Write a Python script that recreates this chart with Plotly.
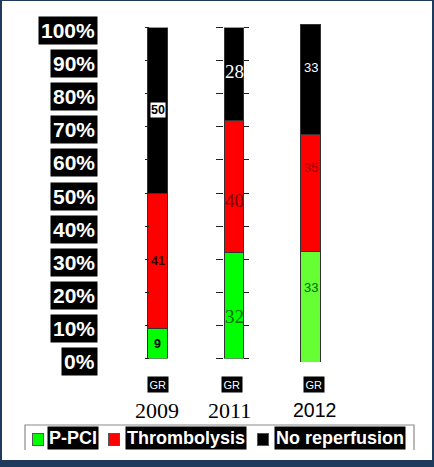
import plotly.graph_objects as go

W, H = 434, 467

# data
years = ["2009", "2011", "2012"]
series = ["P-PCI", "Thrombolysis", "No reperfusion"]
ppci = [9, 32, 33]
thrombolysis = [41, 40, 35]
no_reperfusion = [50, 28, 33]
values = [ppci, thrombolysis, no_reperfusion]

pct_ticks = [0, 10, 20, 30, 40, 50, 60, 70, 80, 90, 100]
pct_labels = ["0%", "10%", "20%", "30%", "40%", "50%", "60%", "70%", "80%", "90%", "100%"]
group_label = "GR"

# styles
seg_colors = [["#00ff00", "#00ff00", "#66ff33"],
              ["#ff0000", "#ff0000", "#ff0000"],
              ["#000000", "#000000", "#000000"]]
legend_colors = ["#00ff00", "#ff0000", "#000000"]
lab_font = [("Arial", 12.5, True), ("Liberation Serif", 19, False), ("Arial", 13, False)]
lab_color = [["#000000", "#3a0000", "#000000"],
             ["#006f00", "#7a0000", "#ffffff"],
             ["#006600", "#990000", "#ffffff"]]
lab_bg = [[None, None, "#ffffff"], [None, None, None], [None, None, None]]
lab_shift = [[0, 0, 0], [-11, -14, 2], [19, 25, 12]]
year_font = [("Liberation Serif", 22), ("Liberation Serif", 22), ("Arial", 19.5)]
year_xshift = [-1, -5, 4]
gr_xshift = [0, -2, 3]


def px(x):
    return x / W


def py(y):
    return 1 - y / H


fig = go.Figure()

for s, name in enumerate(series):
    # 2009 / 2011 share one scale, 2012 was pasted in at a slightly different size
    fig.add_trace(go.Bar(x=years[:2], y=values[s][:2], name=name, width=0.25,
                         marker=dict(color=seg_colors[s][:2], line=dict(color="#333", width=1)),
                         yaxis="y", showlegend=False))
    fig.add_trace(go.Bar(x=years[2:], y=values[s][2:], name=name, width=0.25,
                         marker=dict(color=seg_colors[s][2:], line=dict(color="#333", width=1)),
                         yaxis="y2", showlegend=False))

# empty traces so the tick-only axes get drawn
for ax in ["y3", "y4", "y5"]:
    fig.add_trace(go.Scatter(x=[], y=[], yaxis=ax, showlegend=False, hoverinfo="skip"))

ann = []

# value labels in the middle of every segment
for i, yr in enumerate(years):
    base = 0
    fam, size, bold = lab_font[i]
    for s in range(len(series)):
        v = values[s][i]
        txt = str(v)
        if bold:
            txt = "<b>" + txt + "</b>"
        a = dict(x=i, y=base + v / 2, xref="x", yref="y2" if i == 2 else "y",
                 text=txt, showarrow=False, yshift=lab_shift[i][s],
                 font=dict(family=fam, size=size, color=lab_color[i][s]), borderpad=0)
        if lab_bg[i][s]:
            a["bgcolor"] = lab_bg[i][s]
        ann.append(a)
        base += v

# percent labels in black boxes
for t, lab in zip(pct_ticks, pct_labels):
    ann.append(dict(x=px(98), y=t, xref="paper", yref="y", xanchor="right",
                    text="<b>" + lab + "</b>", showarrow=False, yshift=-3,
                    font=dict(family="Arial", size=21, color="white"),
                    bgcolor="black", borderpad=2))

# GR tags and years under the bars
for i, yr in enumerate(years):
    ann.append(dict(x=i, y=py(384), xref="x", yref="paper", yanchor="middle",
                    text=group_label, showarrow=False, xshift=gr_xshift[i],
                    font=dict(family="Arial", size=11, color="white"),
                    bgcolor="black", borderpad=1.5))
    fam, size = year_font[i]
    ann.append(dict(x=i, y=py(410), xref="x", yref="paper", yanchor="middle",
                    text=yr, showarrow=False, xshift=year_xshift[i],
                    font=dict(family=fam, size=size, color="black")))

# hand-made legend: coloured squares + names in black boxes
sq_x = [37.5, 114, 262.5]
name_x = [72.5, 186, 340]
for s, name in enumerate(series):
    ann.append(dict(x=px(sq_x[s]), y=py(439), xref="paper", yref="paper",
                    xanchor="center", yanchor="middle",
                    text="&nbsp;", showarrow=False, width=10, height=11,
                    font=dict(size=6), bgcolor=legend_colors[s],
                    bordercolor="#555", borderwidth=1, borderpad=0))
    ann.append(dict(x=px(name_x[s]), y=py(438), xref="paper", yref="paper",
                    xanchor="center", yanchor="middle",
                    text="<b>" + name + "</b>", showarrow=False,
                    font=dict(family="Arial", size=18, color="white"),
                    bgcolor="black", borderpad=1))

shapes = [
    dict(type="rect", xref="paper", yref="paper", x0=px(2), x1=px(432), y0=py(460), y1=py(1),
         fillcolor="white", line=dict(width=0), layer="below"),
    dict(type="path", xref="paper", yref="paper",
         path="M %f %f L %f %f L %f %f L %f %f" % (px(25), py(450), px(25), py(425),
                                                   px(414), py(425), px(414), py(450)),
         line=dict(color="#8a8a8a", width=1.2)),
]

tick_axis = dict(overlaying="y", anchor="free", range=[0, 100], tickmode="array",
                 tickvals=pct_ticks, ticks="outside", tickcolor="#222", tickwidth=1.3,
                 showticklabels=False, showgrid=False, zeroline=False, showline=False)

fig.update_layout(
    width=W, height=H,
    margin=dict(l=0, r=0, t=0, b=0),
    paper_bgcolor="#1e3a5c",
    plot_bgcolor="rgba(0,0,0,0)",
    barmode="stack",
    showlegend=False,
    xaxis=dict(domain=[0, 1], type="category", categoryorder="array", categoryarray=years,
               range=[-2.0588, 3.6144], visible=False),
    yaxis=dict(domain=[py(358.5), py(27.5)], range=[0, 100], visible=False),
    yaxis2=dict(domain=[py(362), py(24)], range=[0, 101], anchor="x", visible=False),
    yaxis3=dict(tick_axis, position=px(149), side="left", ticklen=4),
    yaxis4=dict(tick_axis, position=px(223), side="left", ticklen=7),
    yaxis5=dict(tick_axis, position=px(243), side="right", ticklen=5),
    annotations=ann,
    shapes=shapes,
)

fig.write_html("out.html", config={"displayModeBar": False},
               post_script="document.body.style.margin='0';document.body.style.overflow='hidden';")
